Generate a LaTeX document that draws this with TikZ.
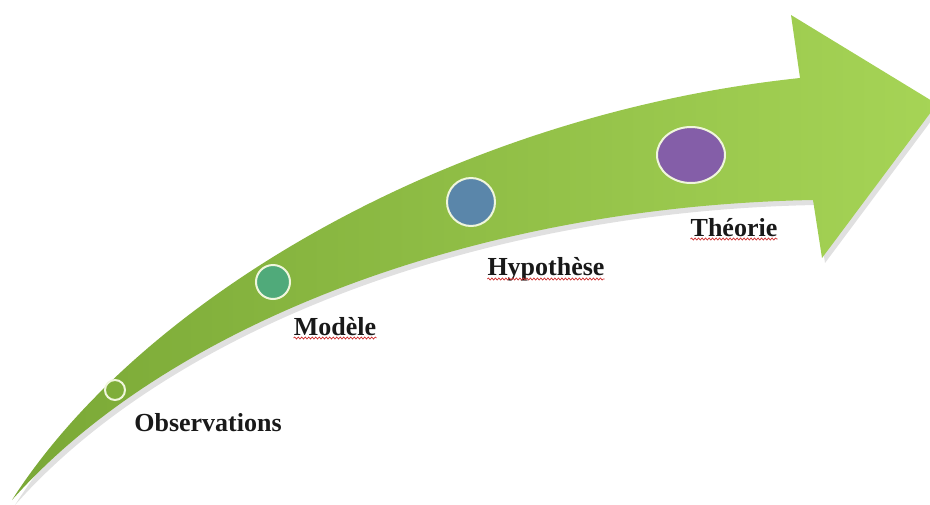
\documentclass[tikz,border=0pt]{standalone}
\usepackage{fontspec}
\setmainfont{Liberation Serif}
\usetikzlibrary{shapes.geometric,decorations.pathmorphing}
\definecolor{arrowL}{RGB}{122,168,54}
\definecolor{arrowM}{RGB}{150,198,72}
\definecolor{arrowR}{RGB}{166,212,86}
\definecolor{ringc}{RGB}{240,246,220}
\definecolor{modc}{RGB}{80,170,122}
\definecolor{hypc}{RGB}{90,134,170}
\definecolor{theoc}{RGB}{132,94,168}
\definecolor{wavec}{RGB}{205,45,45}
\tikzset{
  dot/.style={circle, draw=ringc, line width=2pt, inner sep=0pt},
  lbl/.style={font=\bfseries\fontsize{26}{30}\selectfont, inner sep=0pt, anchor=base, text=black!90},
  wavy/.style={draw=wavec, line width=0.7pt, decorate, decoration={snake, amplitude=1pt, segment length=3.5pt}}
}
\begin{document}
\begin{tikzpicture}[x=1pt,y=-1pt]
\useasboundingbox (0,0) rectangle (930,504);
\begin{scope}
\clip (0,0) rectangle (930,504);
% shadow
\fill[black, opacity=0.12, shift={(3,5)}] (12,500) .. controls (140,300) and (450,115) .. (800,78) -- (791,15) -- (937,104) -- (822,258) -- (813,200) .. controls (480,206) and (170,322) .. (12,500) -- cycle;
% arrow
\shade[left color=arrowL, middle color=arrowM, right color=arrowR] (12,500) .. controls (140,300) and (450,115) .. (800,78) -- (791,15) -- (937,104) -- (822,258) -- (813,200) .. controls (480,206) and (170,322) .. (12,500) -- cycle;
\end{scope}
% circles
\node[dot, minimum size=20pt, fill=none] (obs) at (115,390) {};
\node[dot, minimum size=34pt, fill=modc] (mod) at (273,282) {};
\node[dot, minimum size=48pt, fill=hypc] (hyp) at (471,202) {};
\node[ellipse, draw=ringc, line width=2pt, inner sep=0pt, minimum width=68pt, minimum height=56pt, fill=theoc] (theo) at (691,155) {};
% labels
\node[lbl] (tobs) at (208,431) {Observations};
\node[lbl] (tmod) at (335,335) {Modèle};
\node[lbl] (thyp) at (546,275) {Hypothèse};
\node[lbl] (ttheo) at (734,236) {Théorie};
% spell-check underlines
\draw[wavy] ([yshift=-3pt]tmod.base west) -- ([yshift=-3pt]tmod.base east);
\draw[wavy] ([yshift=-4pt]thyp.base west) -- ([yshift=-4pt]thyp.base east);
\draw[wavy] ([yshift=-3pt]ttheo.base west) -- ([yshift=-3pt]ttheo.base east);
\end{tikzpicture}
\end{document}
